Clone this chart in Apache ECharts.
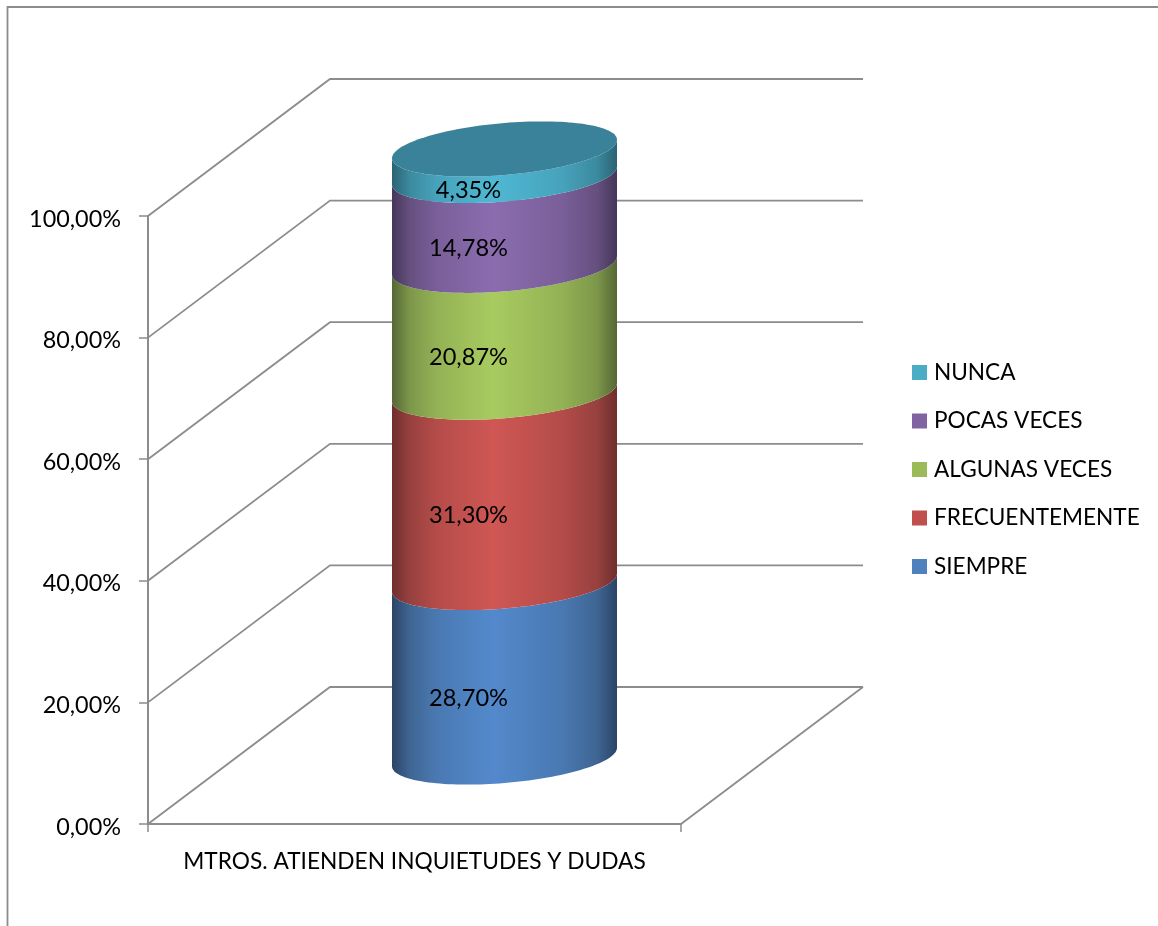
<!DOCTYPE html>
<html>
<head>
<meta charset="utf-8">
<style>html,body{margin:0;padding:0;background:#fff}#c{width:1158px;height:926px}</style>
<script src="https://cdn.jsdelivr.net/npm/echarts@6/dist/echarts.min.js"></script>
</head>
<body>
<div id="c"></div>
<script>
const categories = ['MTROS. ATIENDEN INQUIETUDES Y DUDAS'];
const seriesNames = ['SIEMPRE', 'FRECUENTEMENTE', 'ALGUNAS VECES', 'POCAS VECES', 'NUNCA'];
const seriesValues = [28.70, 31.30, 20.87, 14.78, 4.35];
const yTicks = [0, 20, 40, 60, 80, 100];

const baseColors = ['#4F81BD', '#C0504D', '#9BBB59', '#8064A2', '#4BACC6'];
const lightColors = ['#5389CC', '#CF5754', '#A8CB60', '#8B6DAF', '#4FB8D4'];
const midColors = ['#4A79B2', '#B54C49', '#94B255', '#7A5F9A', '#47A3BC'];
const sideColors = ['#3F6694', '#97413F', '#7D974A', '#66507F', '#3C8A9F'];
const edgeColors = ['#2A4466', '#6E2F2D', '#556735', '#45365A', '#2A6373'];
const capColor = '#3A8299';
const lineColor = '#8C8C8C';
const font = 'Lato, Carlito, Calibri, sans-serif';

const WALL_DX = 182, WALL_DY = -137;
const CYL_DX = 90, CYL_DY = -67;
const RX = 112.5, RY = 26, SHEAR = 0.082;

function fmt(v) { return v.toFixed(2).replace('.', ',') + '%'; }

function frontArc(cx, cy, reverse) {
  const pts = [];
  const n = 72;
  for (let i = 0; i <= n; i++) {
    const t = Math.PI * (reverse ? n - i : i) / n;
    const x = RX * Math.cos(t);
    pts.push([cx + x, cy - SHEAR * x + RY * Math.sin(t)]);
  }
  return pts;
}
function fullEllipse(cx, cy) {
  const pts = [];
  const n = 144;
  for (let i = 0; i < n; i++) {
    const t = 2 * Math.PI * i / n;
    const x = RX * Math.cos(t);
    pts.push([cx + x, cy - SHEAR * x + RY * Math.sin(t)]);
  }
  return pts;
}

const wallSeries = {
  type: 'custom',
  name: 'walls',
  silent: true,
  z: 1,
  clip: false,
  encode: { x: 0, y: 1 },
  data: yTicks.map(v => [0, v]),
  renderItem(params, api) {
    const v = api.value(1);
    const rect = params.coordSys;
    const y = api.coord([0, v])[1];
    const x0 = rect.x, x1 = rect.x + rect.width;
    const children = [{
      type: 'polyline',
      shape: { points: [[x0, y], [x0 + WALL_DX, y + WALL_DY], [x1 + WALL_DX, y + WALL_DY]] },
      style: { fill: 'none', stroke: lineColor, lineWidth: 1.8 }
    }];
    if (v === 0) {
      children.push({
        type: 'line',
        shape: { x1: x1, y1: y, x2: x1 + WALL_DX, y2: y + WALL_DY },
        style: { stroke: lineColor, lineWidth: 1.8 }
      });
    }
    return { type: 'group', children };
  }
};

let running = 0;
const cylinderSeries = seriesNames.map((name, i) => {
  const start = running;
  running += seriesValues[i];
  const end = running;
  const isTop = i === seriesNames.length - 1;
  return {
    type: 'custom',
    name,
    z: 3 + i,
    clip: false,
    itemStyle: { color: baseColors[i] },
    encode: { x: 0, y: 2 },
    data: [[0, start, end, seriesValues[i]]],
    renderItem(params, api) {
      const a = api.coord([0, api.value(1)]);
      const b = api.coord([0, api.value(2)]);
      const cx = a[0] + CYL_DX;
      const yb = a[1] + CYL_DY, yt = b[1] + CYL_DY;
      const points = frontArc(cx, yb, false).concat(frontArc(cx, yt, true));
      const children = [{
        type: 'polygon',
        shape: { points },
        style: {
          fill: new echarts.graphic.LinearGradient(0, 0, 1, 0, [
            { offset: 0, color: edgeColors[i] },
            { offset: 0.08, color: sideColors[i] },
            { offset: 0.2, color: midColors[i] },
            { offset: 0.45, color: lightColors[i] },
            { offset: 0.75, color: midColors[i] },
            { offset: 0.91, color: sideColors[i] },
            { offset: 1, color: edgeColors[i] }
          ])
        }
      }];
      if (isTop) {
        children.push({
          type: 'polygon',
          shape: { points: fullEllipse(cx, yt) },
          style: { fill: capColor }
        });
      }
      const mid = api.coord([0, (api.value(1) + api.value(2)) / 2]);
      children.push({
        type: 'text',
        z2: 10,
        style: {
          x: cx - 36,
          y: mid[1] + CYL_DY + 28.5,
          text: fmt(api.value(3)),
          fill: '#000',
          font: '23.6px ' + font,
          align: 'center',
          verticalAlign: 'middle'
        }
      });
      return { type: 'group', children };
    }
  };
});

const chart = echarts.init(document.getElementById('c'), null, { renderer: 'canvas' });
chart.setOption({
  animation: false,
  backgroundColor: '#fff',
  textStyle: { fontFamily: font },
  grid: { left: 148, right: 477, top: 216, bottom: 102, containLabel: false },
  graphic: [
    { type: 'polyline', silent: true, shape: { points: [[7.5, 926], [7.5, 7], [1158, 7]] },
      style: { fill: 'none', stroke: lineColor, lineWidth: 1.8 } }
  ],
  legend: {
    show: true,
    orient: 'vertical',
    left: 912,
    top: 361,
    padding: 0,
    icon: 'rect',
    itemWidth: 15,
    itemHeight: 15,
    itemGap: 25.5,
    data: seriesNames.slice().reverse(),
    textStyle: { fontFamily: font, fontSize: 22.6, color: '#000', lineHeight: 22, padding: [0, 0, 0, 2] }
  },
  xAxis: {
    type: 'category',
    data: categories,
    axisLine: { lineStyle: { color: lineColor, width: 2 } },
    axisTick: { show: true, length: 8, lineStyle: { color: lineColor, width: 1.5 } },
    axisLabel: { margin: 26, fontFamily: font, fontSize: 22.7, color: '#000' },
    splitLine: { show: false }
  },
  yAxis: {
    type: 'value',
    min: 0,
    max: 100,
    interval: 20,
    axisLine: { show: true, lineStyle: { color: lineColor, width: 2 } },
    axisTick: { show: true, length: 9, lineStyle: { color: lineColor, width: 1.5 } },
    axisLabel: { margin: 27, fontFamily: font, fontSize: 23.4, color: '#000', verticalAlign: 'top', lineHeight: 6, formatter: v => fmt(v) },
    splitLine: { show: false }
  },
  series: [wallSeries].concat(cylinderSeries)
});
</script>
</body>
</html>
